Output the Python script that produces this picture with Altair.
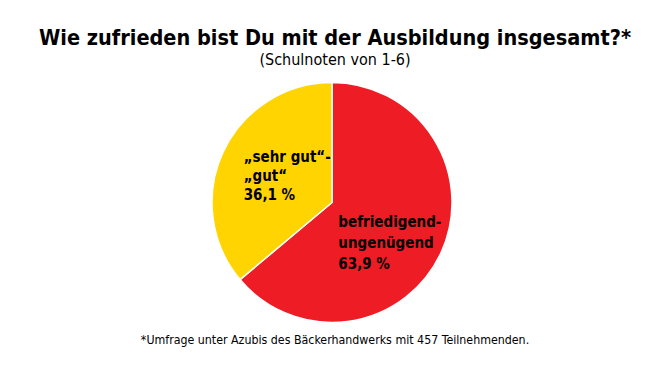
import altair as alt
import pandas as pd

categories = ["befriedigend-ungenügend", "„sehr gut“-„gut“"]
values = [63.9, 36.1]
label_lines = [["befriedigend-", "ungenügend", "63,9 %"], ["„sehr gut“-", "„gut“", "36,1 %"]]
colors = ["#EE1C25", "#FFD400"]

df = pd.DataFrame({"cat": categories, "val": values, "order": [0, 1]})
df["label"] = label_lines

CX, CY, R = 332, 202.5, 120
COND = "DejaVu Sans Condensed, DejaVu Sans, sans-serif"

base = alt.Chart(df)

pie = base.mark_arc(stroke="white", strokeWidth=1.5).encode(
    theta=alt.Theta("val:Q", stack=True),
    order=alt.Order("order:Q"),
    color=alt.Color("cat:N", scale=alt.Scale(domain=categories, range=colors), legend=None),
    x=alt.value(CX), y=alt.value(CY), radius=alt.value(R),
)

def label_layer(cat, dx, dy, lh):
    return base.transform_window(
        cum="sum(val)", sort=[alt.SortField("order")]
    ).transform_calculate(
        mid="datum.cum - datum.val / 2"
    ).transform_filter(alt.datum.cat == cat).mark_text(
        font=COND, fontWeight="bold", fontSize=15,
        align="left", baseline="middle", lineHeight=lh, color="black", dx=dx, dy=dy,
    ).encode(
        theta=alt.Theta("mid:Q", stack=None, scale=alt.Scale(domain=[0, 100])),
        text="label",
        x=alt.value(CX), y=alt.value(CY), radius=alt.value(60),
    )

lab_red = label_layer(categories[0], -48, -6, 21)
lab_yel = label_layer(categories[1], -34, -20, 19)

foot = alt.Chart(pd.DataFrame({"t": ["*Umfrage unter Azubis des Bäckerhandwerks mit 457 Teilnehmenden."]})).mark_text(
    font=COND, fontSize=12.3, align="center", baseline="middle", color="black"
).encode(text="t:N", x=alt.value(335), y=alt.value(340))

chart = alt.layer(pie, lab_red, lab_yel, foot).properties(
    width=670, height=376,
    autosize=alt.AutoSizeParams(type="none"),
    padding=0,
    title=alt.TitleParams(
        "Wie zufrieden bist Du mit der Ausbildung insgesamt?*",
        subtitle="(Schulnoten von 1-6)",
        font=COND, fontSize=21.5, fontWeight="bold", color="black",
        subtitleFont=COND, subtitleFontSize=16, subtitleColor="black",
        subtitlePadding=3,
        anchor="middle", offset=-68,
    ),
).configure_view(stroke=None)

chart.save("out.html", embed_options={"renderer": "svg", "actions": False})
